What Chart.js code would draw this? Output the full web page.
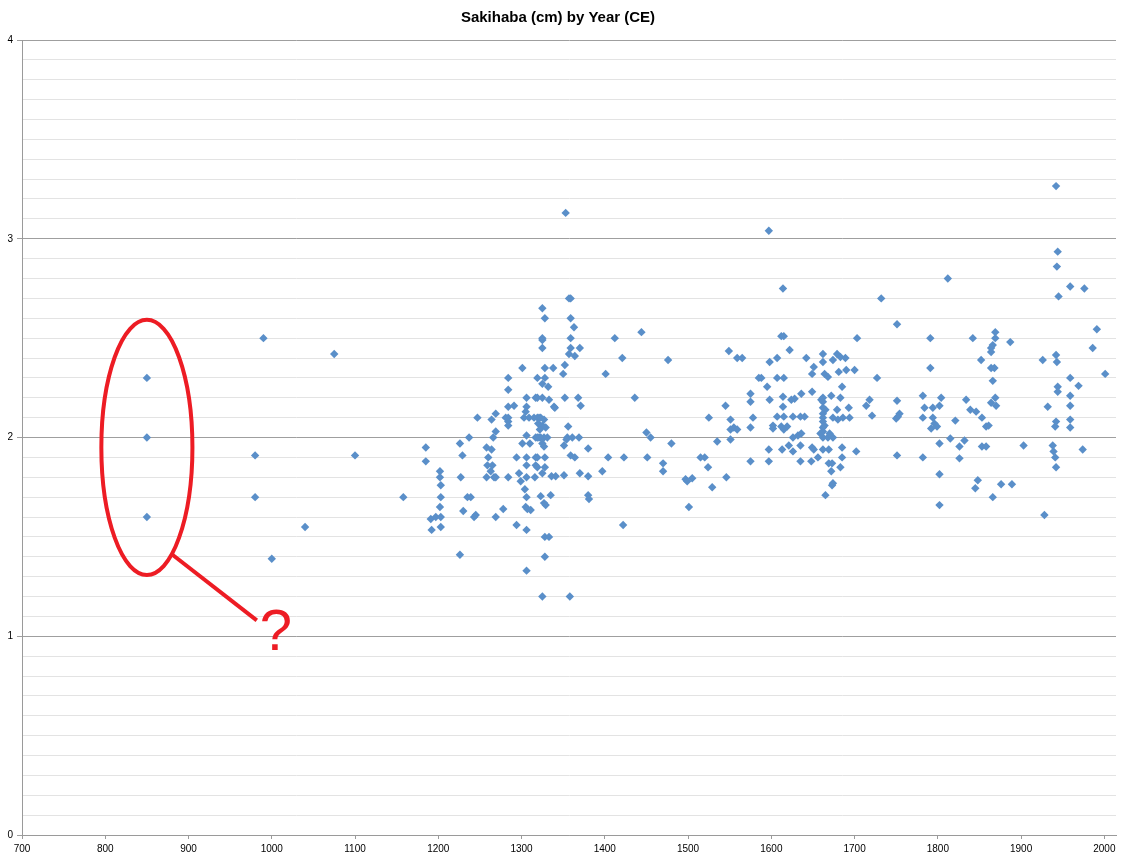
<!DOCTYPE html>
<html>
<head>
<meta charset="utf-8">
<script src="https://cdn.jsdelivr.net/npm/chart.js@4.4.1/dist/chart.umd.min.js"></script>
<style>
  html, body { margin: 0; padding: 0; background: #ffffff; }
  #wrap { width: 1135px; height: 864px; }
</style>
</head>
<body>
<div id="wrap"><canvas id="c" width="1135" height="864"></canvas></div>
<script>
// ---- Data (year CE, sakihaba cm) ----
const title = 'Sakihaba (cm) by Year (CE)';
const xTickStart = 700, xTickEnd = 2000, xTickStep = 100;
const yTickLabels = [0, 1, 2, 3, 4];

const earlyYears  = [850, 850, 850, 980, 980, 990, 1000, 1040, 1075, 1100, 1158];
const earlyValues = [2.30, 2.00, 1.60, 1.91, 1.70, 2.50, 1.39, 1.55, 2.42, 1.91, 1.70];

const p1200Years  = [1185,1185,1191,1192,1197,1202,1202,1203,1203,1202,1203,1203,1226,1229,1237,1227,1235,1239,1230,1243,1245,1226,1247];
const p1200Values = [1.95,1.88,1.59,1.535,1.60,1.83,1.80,1.76,1.70,1.65,1.60,1.55,1.97,1.91,2.00,1.80,1.70,1.70,1.63,1.60,1.61,1.41,2.10];

const p1250Years  = [1264,1269,1269,1266,1258,1264,1260,1259,1265,1263,1258,1267,1269,1278,1269,1284,1284,1284,1291,1284,1284,1284,1284,1294,1297,1299,1294,1281];
const p1250Values = [2.09,2.12,2.03,2.00,1.95,1.94,1.90,1.86,1.86,1.83,1.80,1.80,1.80,1.64,1.60,2.30,2.24,2.155,2.16,2.10,2.08,2.06,1.80,1.90,1.82,1.78,1.56,2.10];

const p1300Years  = [1301,1301,1310,1306,1317,1306,1305,1303,1309,1315,1321,1306,1317,1321,1306,1317,1306,1317,1306,1316,1304,1306,1305,1307,1311,1306,1306];
const p1300Values = [2.35,1.97,1.97,2.20,2.20,2.155,2.13,2.10,2.10,2.10,2.10,2.01,2.00,2.00,1.90,1.90,1.86,1.86,1.80,1.80,1.74,1.70,1.65,1.64,1.635,1.535,1.33];

const p1320Years  = [1325,1328,1325,1325,1325,1328,1338,1319,1328,1325,1332,1319,1325,1333,1339,1340,1319,1323,1327,1320,1325,1329,1322,1319,1323,1327,1331,1325,1327,1319,1328,1319,1328,1325,1336,1341,1323,1335,1327,1329,1328,1333,1328,1325];
const p1320Values = [2.65,2.60,2.50,2.49,2.45,2.35,2.35,2.30,2.30,2.27,2.255,2.20,2.20,2.19,2.155,2.15,2.10,2.10,2.09,2.07,2.06,2.05,2.04,2.00,2.00,2.00,2.00,1.97,1.955,1.90,1.90,1.85,1.85,1.82,1.805,1.805,1.705,1.71,1.67,1.66,1.50,1.50,1.40,1.20];

const p1350Years  = [1353,1357,1359,1359,1363,1359,1359,1370,1357,1364,1352,1350,1352,1368,1371,1356,1355,1361,1369,1351,1380,1359,1364,1351,1370,1380,1380,1381,1358,1354];
const p1350Values = [3.13,2.70,2.70,2.60,2.555,2.50,2.45,2.45,2.42,2.41,2.365,2.32,2.20,2.20,2.16,2.055,2.00,2.00,2.00,1.96,1.945,1.91,1.90,1.81,1.82,1.805,1.71,1.69,1.20,1.99];

const p1400Years  = [1397,1401,1404,1412,1421,1423,1422,1436,1444,1450,1455,1451,1470,1470,1476,1480];
const p1400Values = [1.83,2.32,1.90,2.50,2.40,1.90,1.56,2.20,2.53,2.025,2.00,1.90,1.87,1.83,2.39,1.97];

const p1500Years  = [1497,1505,1499,1501,1515,1520,1524,1525,1529,1535,1545,1546,1549,1551,1551,1555,1559,1551,1559,1565,1575,1575,1575,1575,1578,1585,1588];
const p1500Values = [1.79,1.795,1.78,1.65,1.90,1.90,1.85,2.10,1.75,1.98,2.16,1.80,2.435,2.09,2.04,2.05,2.04,1.99,2.40,2.40,2.22,2.18,2.05,1.88,2.10,2.30,2.30];

const p1600Years  = [1597,1614,1612,1615,1622,1598,1607,1642,1651,1649,1607,1615,1595,1598,1614,1624,1628,1636,1649,1614,1607,1615,1626,1635,1640,1602,1602,1612,1619,1615,1626,1632,1636,1597,1613,1621,1626,1635,1649,1651,1597,1635,1648,1656];
const p1600Values = [3.04,2.75,2.51,2.51,2.44,2.38,2.40,2.40,2.355,2.32,2.30,2.30,2.255,2.19,2.205,2.19,2.195,2.22,2.23,2.155,2.105,2.105,2.105,2.105,2.105,2.06,2.045,2.055,2.055,2.04,2.00,2.01,2.02,1.94,1.94,1.96,1.93,1.96,1.95,1.94,1.88,1.88,1.88,1.90];

const p1660Years  = [1662,1662,1674,1679,1683,1689,1664,1668,1681,1690,1700,1685,1662,1662,1662,1662,1662,1662,1662,1662,1662,1660,1665,1664,1659,1672,1683,1679,1693,1674,1680,1686,1694,1668,1674,1670,1662,1669,1685,1702,1685,1669,1673,1683,1672,1674,1673,1665,1703];
const p1660Values = [2.42,2.38,2.39,2.42,2.405,2.40,2.32,2.305,2.33,2.34,2.34,2.255,2.20,2.18,2.15,2.12,2.10,2.08,2.05,2.03,2.00,2.19,2.14,2.06,2.02,2.21,2.20,2.14,2.15,2.10,2.09,2.10,2.10,2.00,2.00,2.02,1.94,1.94,1.95,1.93,1.90,1.87,1.87,1.85,1.83,1.77,1.76,1.71,2.50];

const p1700Years  = [1714,1718,1721,1727,1732,1751,1751,1750,1754,1752,1751];
const p1700Values = [2.16,2.19,2.11,2.30,2.70,2.57,2.185,2.095,2.12,2.105,1.91];

const p1780Years  = [1782,1784,1794,1802,1804,1791,1791,1812,1782,1794,1796,1799,1792,1821,1802,1815,1826,1832,1782,1826,1802,1802,1834,1839,1846,1842,1852,1848,1845,1853,1858,1861,1853,1858];
const p1780Values = [2.21,2.15,2.15,2.16,2.20,2.50,2.35,2.80,2.10,2.10,2.07,2.055,2.045,2.085,1.97,1.995,1.955,1.985,1.90,1.895,1.815,1.66,2.19,2.14,2.13,2.50,2.39,1.785,1.745,2.10,2.055,2.06,1.955,1.955];

const p1860Years  = [1869,1869,1887,1866,1864,1864,1864,1868,1866,1869,1864,1870,1876,1889,1866,1903];
const p1860Values = [2.53,2.50,2.48,2.465,2.45,2.43,2.35,2.35,2.285,2.20,2.175,2.16,1.765,1.765,1.70,1.96];

const p1900Years  = [1942,1944,1943,1959,1976,1945,1991,1986,1926,1942,1943,2001,1959,1969,1944,1944,1959,1959,1932,1942,1941,1959,1959,1938,1939,1941,1942,1974,1928];
const p1900Values = [3.265,2.935,2.86,2.76,2.75,2.71,2.545,2.45,2.39,2.415,2.38,2.32,2.30,2.26,2.255,2.23,2.21,2.16,2.155,2.08,2.055,2.09,2.05,1.96,1.93,1.90,1.85,1.94,1.61];

// ---- Build points from arrays ----
const groups = [
  [earlyYears, earlyValues], [p1200Years, p1200Values], [p1250Years, p1250Values],
  [p1300Years, p1300Values], [p1320Years, p1320Values], [p1350Years, p1350Values],
  [p1400Years, p1400Values], [p1500Years, p1500Values], [p1600Years, p1600Values],
  [p1660Years, p1660Values], [p1700Years, p1700Values], [p1780Years, p1780Values],
  [p1860Years, p1860Values], [p1900Years, p1900Values]
];
const points = [];
groups.forEach(([xs, ys]) => xs.forEach((x, i) => points.push({ x: x, y: ys[i] })));

// ---- Annotation (in data coordinates) ----
const note = { cx: 850, cy: 1.95, rx: 54.7, ry: 0.642, angle: 56.8, lineEnd: { x: 982, y: 1.08 }, mark: '?', markPos: { x: 1005, y: 0.93 } };

const isMajor = v => Math.abs(v - Math.round(v)) < 1e-6;

const annotationPlugin = {
  id: 'circleNote',
  afterDatasetsDraw(chart) {
    const { ctx, scales: { x, y } } = chart;
    const cx = x.getPixelForValue(note.cx), cy = y.getPixelForValue(note.cy);
    const rx = x.getPixelForValue(note.cx + note.rx) - cx;
    const ry = cy - y.getPixelForValue(note.cy + note.ry);
    ctx.save();
    ctx.strokeStyle = '#ED1C24';
    ctx.lineWidth = 4;
    ctx.beginPath();
    ctx.ellipse(cx, cy, rx, ry, 0, 0, Math.PI * 2);
    ctx.stroke();
    const t = note.angle * Math.PI / 180;
    const sx = cx + rx * Math.cos(t), sy = cy + ry * Math.sin(t);
    ctx.beginPath();
    ctx.moveTo(sx, sy);
    ctx.lineTo(x.getPixelForValue(note.lineEnd.x), y.getPixelForValue(note.lineEnd.y));
    ctx.stroke();
    ctx.fillStyle = '#ED1C24';
    ctx.font = '58px "Liberation Sans", Arial, sans-serif';
    ctx.textAlign = 'center';
    ctx.textBaseline = 'alphabetic';
    ctx.fillText(note.mark, x.getPixelForValue(note.markPos.x), y.getPixelForValue(note.markPos.y));
    ctx.restore();
  }
};

new Chart(document.getElementById('c'), {
  type: 'scatter',
  data: {
    datasets: [{
      data: points,
      pointStyle: 'rectRot',
      pointRadius: 4.2,
      pointBorderWidth: 0,
      pointBackgroundColor: '#5A8FC9',
      pointBorderColor: '#5A8FC9',
      pointHoverRadius: 4.2
    }]
  },
  plugins: [annotationPlugin],
  options: {
    responsive: false,
    animation: false,
    devicePixelRatio: 1,
    layout: { padding: { left: 0, right: 19, top: 0, bottom: 0 } },
    plugins: {
      legend: { display: false },
      tooltip: { enabled: false },
      title: {
        display: true,
        text: title,
        color: '#000000',
        font: { family: '"Liberation Sans", Arial, sans-serif', size: 15, weight: 'bold', lineHeight: 1.2 },
        padding: { top: 9, bottom: 13 }
      }
    },
    scales: {
      x: {
        type: 'linear',
        min: xTickStart,
        max: 2014,
        afterFit(scale) { scale.height = 29; },
        ticks: {
          stepSize: xTickStep,
          includeBounds: false,
          autoSkip: false,
          maxRotation: 0,
          padding: 4,
          color: '#000000',
          font: { family: '"Liberation Sans", Arial, sans-serif', size: 10 },
          callback(v) { return (v >= xTickStart && v <= xTickEnd) ? String(v) : ''; }
        },
        grid: { drawOnChartArea: false, drawTicks: true, tickLength: 4, tickColor: '#9A9A9A' },
        border: { color: '#9A9A9A', width: 1 }
      },
      y: {
        type: 'linear',
        min: 0,
        max: 4,
        afterFit(scale) { scale.width = 22; },
        ticks: {
          stepSize: 0.1,
          autoSkip: false,
          padding: 4,
          color: '#000000',
          font: { family: '"Liberation Sans", Arial, sans-serif', size: 10 },
          callback(v) {
            if (!isMajor(v)) return '';
            const r = Math.round(v);
            return yTickLabels.includes(r) ? String(r) : '';
          }
        },
        grid: {
          color: ctx => isMajor(ctx.tick.value) ? '#9F9F9F' : '#E3E3E3',
          tickColor: ctx => isMajor(ctx.tick.value) ? '#9F9F9F' : 'rgba(0,0,0,0)',
          tickLength: 5,
          lineWidth: 1
        },
        border: { color: '#9A9A9A', width: 1 }
      }
    }
  }
});
</script>
</body>
</html>
